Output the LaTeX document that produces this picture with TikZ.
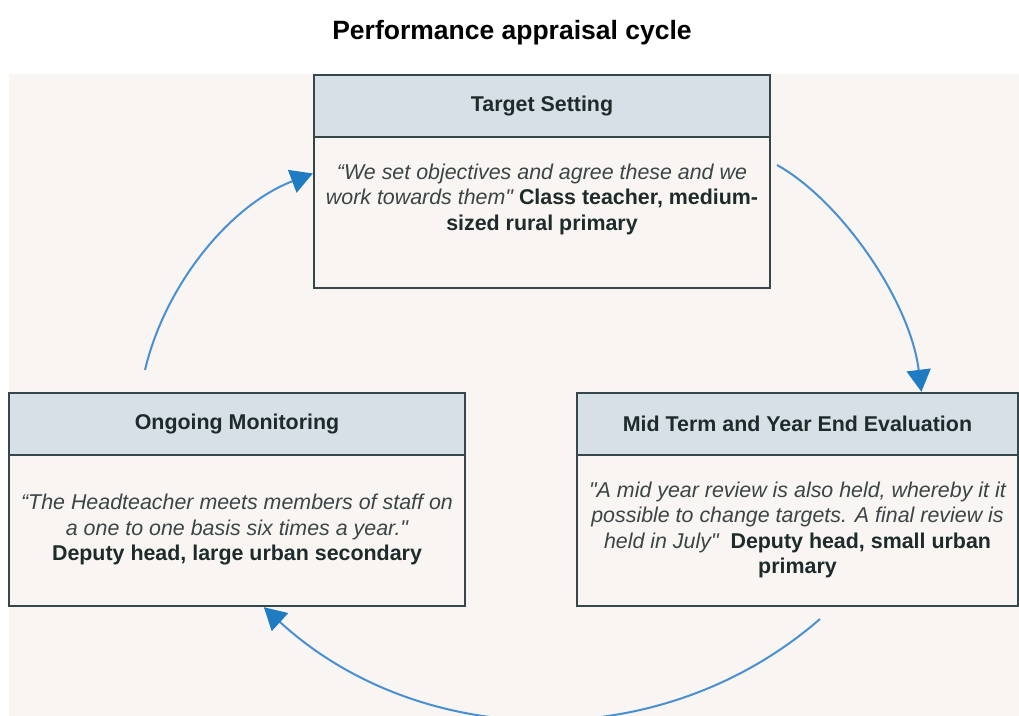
\documentclass[tikz,border=0pt]{standalone}
\usepackage{fontspec}
\setmainfont{Liberation Sans}[Ligatures=TeXOff]
\usetikzlibrary{arrows.meta}
\definecolor{bgc}{HTML}{F8F5F2}
\definecolor{hdc}{HTML}{D7DFE7}
\definecolor{bdc}{HTML}{36474A}
\definecolor{txc}{HTML}{1E2B2B}
\definecolor{itc}{HTML}{3B4545}
\definecolor{arl}{HTML}{4A90D0}
\definecolor{arh}{HTML}{1F7BC2}
\begin{document}
\begin{tikzpicture}[x=0.5pt,y=-0.5pt,
  panel/.style={draw=bdc, line width=1.2pt, fill=bgc, inner sep=0pt, minimum height=106.5pt},
  headbar/.style={draw=bdc, line width=1.2pt, fill=hdc, inner sep=0pt, minimum height=31pt, anchor=north, font=\fontsize{10.7}{12.8}\selectfont\bfseries, text=txc},
  quote/.style={align=center, inner sep=0pt, font=\fontsize{10.7}{12.75}\selectfont, text=itc},
  cyc/.style={draw=arl, line width=1pt, -{Triangle[length=11pt,width=12pt,color=arh]}},
]
\useasboundingbox (0,0) rectangle (1019,716);
\fill[bgc] (9,74) rectangle (1019,716);
\node[font=\fontsize{13.25}{16}\selectfont\bfseries, text=black] (title) at (512,33) {Performance appraisal cycle};

% Target Setting
\node[panel, minimum width=228pt] (ts) at (542,181.5) {};
\node[headbar, minimum width=228pt] (tsh) at (ts.north) {Target Setting};
\node[quote] (tsq) at (542,199) {\itshape “We set objectives and agree these and we\\
  \itshape work towards them" {\bfseries\upshape\color{txc}Class teacher, medium-}\\
  {\bfseries\upshape\color{txc}sized rural primary}};

% Ongoing Monitoring
\node[panel, minimum width=228pt] (om) at (237,499.5) {};
\node[headbar, minimum width=228pt] (omh) at (om.north) {Ongoing Monitoring};
\node[quote] (omq) at (237,530) {\itshape “The Headteacher meets members of staff on\\
  \itshape a one to one basis six times a year."\\
  {\bfseries\upshape\color{txc}Deputy head, large urban secondary}};

% Mid Term and Year End Evaluation
\node[panel, minimum width=220.5pt] (mt) at (797.5,499.5) {};
\node[headbar, minimum width=220.5pt] (mth) at (mt.north) {Mid Term and Year End Evaluation};
\node[quote] (mtq) at (797.5,530) {\itshape "A mid year review is also held, whereby it it\\
  \itshape possible to change targets. A final review is\\
  \itshape held in July"\ \ {\bfseries\upshape\color{txc}Deputy head, small urban}\\
  {\bfseries\upshape\color{txc}primary}};

% cycle arrows
\coordinate (s1) at (145,370);
\coordinate (s2) at (777,165);
\coordinate (s3) at (820,619);
\draw[cyc] (s1) .. controls (165,285) and (230,205) .. (ts.178);
\draw[cyc] (s2) .. controls (840,200) and (910,300) .. (mt.41.2);
\draw[cyc] (s3) .. controls (659,759) and (418,749) .. (om.-76.5);
\end{tikzpicture}
\end{document}
